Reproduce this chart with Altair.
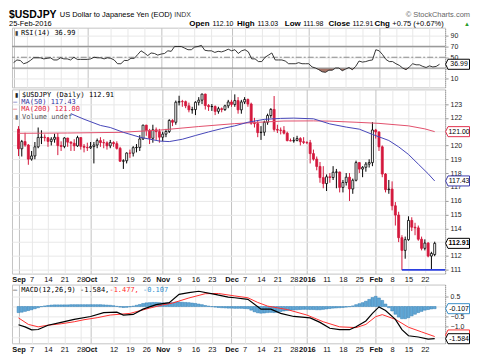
import json
import altair as alt
import pandas as pd

# ---------------- layout constants ----------------
W = 435
H_RSI, H_PRICE, H_MACD = 60, 185, 59
X_DOMAIN = [-0.47, 128.66]
PRICE_DOMAIN = [110.72, 124.06]
RSI_DOMAIN = [-6, 105]
MACD_DOMAIN = [-1.81, 1.08]

# ---------------- axis labels (trading-day index) ----------------
tick_vals = [0, 4, 9, 14, 19, 22, 29, 34, 39, 44, 49, 54, 59, 65, 69, 74, 79, 84, 88, 94, 99, 104, 109, 114, 119, 124]
tick_text = ["Sep", "7", "14", "21", "28", "Oct", "12", "19", "26", "Nov", "9", "16", "23", "Dec",
             "7", "14", "21", "28", "2016", "11", "18", "25", "Feb", "8", "15", "22"]
month_ticks = [0, 22, 44, 65, 88, 109]
rsi_ticks = [10, 30, 50, 70, 90]
price_ticks = [111, 112, 113, 114, 115, 116, 117, 118, 119, 120, 121, 122, 123]
macd_ticks = [-1.5, -1.0, -0.5, 0.0, 0.5]
# tick labels hidden under the value boxes
rsi_hidden = [30]
price_hidden = [113, 121]
macd_hidden = [-1.5, 0.0]

# ---------------- daily OHLC, Sep 1 2015 .. Feb 25 2016 ----------------
opens = [121.18, 119.76, 120.28, 120.03, 119.01, 119.24, 119.90, 120.58, 120.60, 120.56,
         120.29, 120.45, 120.59, 119.99, 119.93, 120.54, 120.24, 120.16, 119.97, 120.57,
         119.94, 119.87, 119.83, 119.92, 120.03, 120.35, 120.21, 120.19, 119.97, 120.21,
         120.13, 119.79, 118.86, 118.89, 119.45, 119.44, 119.84, 119.86, 120.47, 121.47,
         121.09, 120.52, 121.13, 121.00, 120.60, 120.82, 121.01, 121.81, 121.68, 123.13,
         123.18, 123.17, 122.87, 122.58, 122.60, 123.13, 123.28, 123.72, 122.89, 122.81,
         122.82, 122.47, 122.66, 122.60, 122.87, 123.15, 122.97, 123.25, 122.58, 123.15,
         123.33, 123.00, 121.61, 121.58, 120.93, 120.96, 121.68, 122.17, 122.61, 121.16,
         121.11, 121.09, 120.89, 120.35, 120.33, 120.37, 120.50, 120.27, 120.22, 120.20,
         119.41, 119.01, 118.48, 117.67, 117.24, 117.73, 117.68, 118.06, 118.08, 116.96,
         117.32, 117.70, 116.85, 117.48, 118.76, 118.29, 118.42, 118.65, 118.76, 121.12,
         120.98, 119.90, 117.93, 116.80, 116.84, 115.63, 114.96, 113.32, 112.40, 113.18,
         114.57, 114.08, 114.03, 113.21, 112.55, 112.93, 111.99, 112.10]
highs = [121.40, 120.40, 120.92, 120.10, 119.60, 120.25, 121.30, 121.10, 120.80, 120.60,
         120.60, 120.85, 120.90, 120.30, 120.60, 120.55, 120.30, 120.45, 120.70, 120.60,
         120.10, 120.20, 120.25, 120.25, 120.50, 120.60, 120.45, 120.30, 120.40, 120.30,
         120.30, 119.90, 119.00, 119.50, 119.70, 119.95, 120.10, 120.75, 121.50, 121.50,
         121.20, 121.50, 121.30, 121.20, 121.00, 121.20, 121.90, 121.90, 123.25, 123.60,
         123.30, 123.25, 123.10, 122.80, 123.20, 123.50, 123.75, 123.75, 123.00, 123.00,
         122.90, 122.80, 122.75, 122.95, 123.30, 123.30, 123.70, 123.50, 123.30, 123.50,
         123.40, 123.10, 122.00, 121.80, 121.40, 121.80, 122.30, 122.70, 123.58, 121.50,
         121.30, 121.40, 121.00, 120.50, 120.60, 120.70, 120.60, 120.60, 120.30, 120.40,
         119.70, 119.20, 118.80, 118.50, 117.90, 118.00, 118.50, 118.30, 118.10, 117.50,
         118.00, 118.00, 117.60, 118.90, 118.80, 118.50, 118.80, 119.00, 121.69, 121.20,
         121.00, 120.00, 118.00, 117.50, 117.40, 115.90, 115.20, 113.50, 113.40, 114.87,
         114.80, 114.40, 114.20, 113.40, 113.20, 113.00, 112.30, 113.03]
lows = [119.23, 119.20, 119.90, 118.60, 118.90, 119.00, 119.80, 120.10, 120.30, 119.90,
        120.00, 120.20, 119.30, 119.60, 119.80, 119.90, 119.60, 119.60, 119.90, 119.70,
        119.50, 119.60, 119.75, 118.70, 119.80, 119.90, 119.80, 119.70, 119.80, 119.90,
        119.70, 118.80, 118.30, 118.70, 119.10, 119.20, 119.50, 119.60, 120.40, 120.70,
        120.10, 120.20, 120.40, 120.20, 120.30, 120.60, 120.90, 121.40, 121.50, 122.90,
        122.80, 122.70, 122.40, 122.30, 122.20, 122.90, 123.00, 122.60, 122.50, 122.50,
        122.20, 122.30, 122.40, 122.50, 122.70, 122.80, 122.80, 122.30, 122.30, 123.00,
        122.80, 121.50, 121.30, 120.60, 120.40, 120.70, 121.50, 122.00, 121.00, 120.90,
        120.80, 120.80, 120.30, 120.30, 120.20, 120.30, 120.00, 120.10, 120.10, 118.70,
        118.90, 118.20, 117.30, 116.90, 116.70, 117.30, 117.50, 116.90, 116.60, 116.60,
        117.10, 115.98, 116.50, 117.40, 118.00, 117.70, 118.10, 118.40, 118.50, 120.50,
        119.60, 117.70, 116.60, 116.50, 115.30, 114.20, 113.00, 110.98, 111.80, 113.10,
        113.80, 113.50, 113.10, 112.40, 112.40, 111.90, 110.99, 111.98]
closes = [119.76, 120.28, 120.03, 119.01, 119.24, 119.90, 120.58, 120.60, 120.56, 120.29,
          120.45, 120.59, 119.99, 119.93, 120.54, 120.24, 120.16, 119.97, 120.57, 119.94,
          119.87, 119.83, 119.92, 120.03, 120.35, 120.21, 120.19, 119.97, 120.21, 120.13,
          119.79, 118.86, 118.89, 119.45, 119.44, 119.84, 119.86, 120.47, 121.47, 121.09,
          120.52, 121.13, 121.00, 120.60, 120.82, 121.01, 121.81, 121.68, 123.13, 123.18,
          123.17, 122.87, 122.58, 122.60, 123.13, 123.28, 123.72, 122.89, 122.81, 122.82,
          122.47, 122.66, 122.60, 122.87, 123.15, 122.97, 123.25, 122.58, 123.15, 123.33,
          123.00, 121.61, 121.58, 120.93, 120.96, 121.68, 122.17, 122.61, 121.16, 121.11,
          121.09, 120.89, 120.35, 120.33, 120.37, 120.50, 120.27, 120.22, 120.20, 119.41,
          119.01, 118.48, 117.67, 117.24, 117.73, 117.68, 118.06, 118.08, 116.96, 117.32,
          117.70, 116.85, 117.48, 118.76, 118.29, 118.42, 118.65, 118.76, 121.12, 120.98,
          119.90, 117.93, 116.80, 116.84, 115.63, 114.96, 113.32, 112.40, 113.18, 114.57,
          114.08, 114.03, 113.21, 112.55, 112.93, 111.99, 112.18, 112.91]

# ---------------- RSI(14) ----------------
rsi = [40, 45, 44, 38, 40, 44, 49, 49, 49, 47, 48, 49, 45, 45, 49, 47, 47, 45, 50, 46,
       46, 46, 46, 47, 50, 49, 49, 47, 49, 48, 45, 38, 38, 44, 44, 48, 48, 55, 62, 58,
       53, 58, 57, 54, 56, 57, 62, 61, 70, 70, 70, 67, 64, 64, 69, 70, 72, 63, 62, 62,
       59, 61, 60, 62, 65, 62, 64, 57, 62, 64, 60, 47, 47, 42, 42, 50, 54, 58, 45, 45,
       45, 43, 38, 38, 38, 40, 38, 38, 38, 32, 30, 27, 23, 22, 26, 26, 30, 30, 25, 28,
       31, 27, 33, 43, 41, 42, 44, 45, 64, 62, 55, 46, 42, 42, 38, 35, 30, 27, 32, 38,
       36, 36, 33, 31, 34, 32, 33, 36.99]

# ---------------- moving averages (read at points along the curves) ----------------
ma50_idx = [16, 20, 25, 28, 32, 37, 43, 46, 50, 54, 58, 62, 66, 70, 75, 80, 84, 90, 95, 100,
            104, 108, 113, 116, 119, 122, 125, 127]
ma50 = [122.30, 121.90, 121.45, 121.30, 120.95, 120.60, 120.32, 120.28, 120.45, 120.72,
        120.98, 121.22, 121.42, 121.68, 121.89, 121.96, 121.98, 121.93, 121.56, 121.33,
        121.18, 120.80, 120.36, 119.90, 119.35, 118.65, 117.95, 117.43]
ma200_idx = [0, 15, 31, 43, 55, 66, 75, 81, 90, 95, 103, 110, 119, 124, 127]
ma200 = [120.88, 120.90, 120.95, 121.11, 121.37, 121.58, 121.70, 121.77, 121.78, 121.76,
         121.68, 121.60, 121.42, 121.20, 121.00]

# ---------------- MACD(12,26,9) ----------------
macd_idx = [0, 2, 4, 6, 9, 13, 17, 22, 26, 30, 32, 35, 38, 42, 46, 49, 52, 55, 60, 64, 66,
            70, 74, 77, 80, 84, 89, 92, 95, 98, 101, 103, 106, 108, 110, 112, 115, 117, 119,
            122, 125, 127]
macd = [-0.90, -1.00, -1.15, -1.13, -0.92, -0.78, -0.63, -0.49, -0.30, -0.28, -0.42, -0.39,
        -0.13, 0.09, 0.19, 0.60, 0.68, 0.75, 0.60, 0.46, 0.43, 0.35, -0.13, -0.13, -0.34,
        -0.49, -0.56, -0.78, -1.07, -1.14, -1.14, -1.00, -0.71, -0.34, -0.02, -0.20, -0.63,
        -1.14, -1.44, -1.50, -1.60, -1.584]
sig_idx = [0, 3, 6, 9, 13, 17, 20, 24, 28, 34, 40, 44, 47, 52, 57, 61, 66, 70, 73, 76, 82,
           88, 93, 98, 103, 106, 109, 111, 115, 119, 123, 127]
signal = [-0.56, -0.88, -1.00, -0.92, -0.85, -0.75, -0.65, -0.55, -0.42, -0.34, -0.08, 0.08,
          0.17, 0.42, 0.63, 0.64, 0.52, 0.43, 0.20, 0.02, -0.15, -0.42, -0.75, -1.00, -1.04,
          -0.88, -0.50, -0.40, -0.63, -1.02, -1.25, -1.477]
hist = [-0.30, -0.28, -0.24, -0.20, -0.16, -0.11, -0.06, -0.01, 0.03, 0.05,
        0.07, 0.08, 0.08, 0.08, 0.08, 0.08, 0.09, 0.09, 0.09, 0.09,
        0.09, 0.09, 0.09, 0.09, 0.09, 0.09, 0.08, 0.07, 0.06, 0.04,
        0.01, -0.03, -0.05, -0.04, -0.02, 0.02, 0.06, 0.10, 0.15, 0.18,
        0.19, 0.20, 0.20, 0.19, 0.18, 0.17, 0.18, 0.19, 0.22, 0.22,
        0.21, 0.20, 0.19, 0.17, 0.15, 0.12, 0.09, 0.05, 0.02, -0.01,
        -0.03, -0.05, -0.06, -0.07, -0.08, -0.08, -0.09, -0.09, -0.09, -0.10,
        -0.11, -0.18, -0.26, -0.31, -0.33, -0.32, -0.30, -0.29, -0.30, -0.28,
        -0.25, -0.22, -0.20, -0.18, -0.17, -0.16, -0.15, -0.14, -0.14, -0.15,
        -0.15, -0.16, -0.16, -0.14, -0.12, -0.10, -0.08, -0.07, -0.06, -0.05,
        -0.03, -0.01, 0.03, 0.09, 0.14, 0.19, 0.26, 0.35, 0.44, 0.50,
        0.42, 0.30, 0.12, -0.06, -0.22, -0.38, -0.52, -0.60, -0.60, -0.55,
        -0.46, -0.38, -0.30, -0.24, -0.18, -0.15, -0.12, -0.107]

support_start = 117
support_level = 110.99

rsi_boxes = [(36.99, "36.99", "#000000", False)]
price_boxes = [(121.00, "121.00", "#e0304e", False), (117.43, "117.43", "#3a3aa8", False),
               (112.91, "112.91", "#000000", True)]
# the signal box (-1.477) sits behind the MACD box, only its outline shows
macd_boxes = [(-0.107, "-0.107", "#3a8fc8", False), (-1.40, "", "#ff3030", False),
              (-1.584, "-1.584", "#000000", False)]

# ---------------- styling ----------------
RED = "#d4183c"
MA50_C = "#4646b8"
MA200_C = "#e2506c"
HIST_FILL = "#62a8d6"
HIST_STROKE = "#2d7bb4"
FONT = "Liberation Sans"
MONO = "DejaVu Sans Mono"

# ---------------- frames ----------------
n = len(closes)
df = pd.DataFrame({"i": list(range(n)), "open": opens, "high": highs, "low": lows,
                   "close": closes, "rsi": rsi, "hist": hist})
prev = df["close"].shift(1).fillna(df["open"])
df["col"] = [RED if c < p else "#000000" for c, p in zip(df["close"], prev)]
df["fillc"] = ["#ffffff" if c > o else col for c, o, col in zip(df["close"], df["open"], df["col"])]
df["zero"] = 0.0

ma50_df = pd.DataFrame({"i": ma50_idx, "v": ma50})
ma200_df = pd.DataFrame({"i": ma200_idx, "v": ma200})
macd_df = pd.DataFrame({"i": macd_idx, "v": macd})
sig_df = pd.DataFrame({"i": sig_idx, "v": signal})
sup_df = pd.DataFrame({"i": [support_start], "v": [support_level]})
one = pd.DataFrame({"k": [0]})

xs = alt.Scale(domain=X_DOMAIN, nice=False, zero=False)
month_test = f"indexof({json.dumps(month_ticks)}, datum.value) >= 0"
lab_expr = f"{json.dumps(tick_text)}[indexof({json.dumps(tick_vals)}, datum.value)]"


def xaxis(labels):
    return alt.Axis(values=tick_vals, labelExpr=lab_expr, labels=labels, ticks=False, domain=False,
                    grid=True, title=None, labelOverlap=False, labelFlush=3, labelPadding=2,
                    gridColor={"condition": {"test": month_test, "value": "#c2c2c2"}, "value": "#e8e8e8"},
                    labelFontWeight={"condition": {"test": month_test, "value": "bold"}, "value": "normal"},
                    labelFont=FONT, labelFontSize=7.5, labelColor="#111")


def yaxis(values, hidden, fmt=None):
    kw = dict(values=values, orient="right", title=None, grid=True, gridColor="#e8e8e8",
              domain=True, domainColor="#9a9a9a", domainDash=[1, 1], ticks=True, tickSize=3,
              tickColor="#9a9a9a", labelPadding=2, labelFont=FONT, labelFontSize=7,
              labelColor="#222",
              labelExpr=f"indexof({json.dumps(hidden)}, datum.value) >= 0 ? '' : datum.label")
    if fmt:
        kw["format"] = fmt
    return alt.Axis(**kw)


def make_x(labels):
    return lambda: alt.X("i:Q", scale=xs, axis=xaxis(labels))


def make_y(domain, values, hidden, fmt=None):
    sc = alt.Scale(domain=domain, nice=False, zero=False)
    return lambda field: alt.Y(field, scale=sc, axis=yaxis(values, hidden, fmt))


def note(text, x, y, size=7, color="#000", weight="normal", align="left", font=FONT):
    return alt.Chart(one).mark_text(text=text, align=align, baseline="middle", fontSize=size,
                                    color=color, fontWeight=weight, font=font).encode(
        x=alt.value(x), y=alt.value(y))


BOX_PATH = "M -1 0 L -0.8 -0.42 L 1 -0.42 L 1 0.42 L -0.8 0.42 Z"


def value_box(v, label, stroke, Y, bold=False):
    d = pd.DataFrame({"v": [v], "t": [label]})
    shape = alt.Chart(d).mark_point(shape=BOX_PATH, size=576, fill="white", fillOpacity=1,
                                    stroke=stroke, strokeWidth=1, opacity=1).encode(
        x=alt.value(W + 12.5), y=Y("v:Q"))
    out = [shape]
    if label:
        out.append(alt.Chart(d).mark_text(fontSize=7, font=FONT,
                                          fontWeight="bold" if bold else "normal",
                                          color="#000", align="center", baseline="middle").encode(
            x=alt.value(W + 14), y=Y("v:Q"), text="t:N"))
    return out


base = alt.Chart(df)

# ---------------- RSI panel ----------------
Xr = make_x(False)
Yr = make_y(RSI_DOMAIN, rsi_ticks, rsi_hidden)
rsi_fill = base.transform_calculate(lo="min(datum.rsi, 30)").mark_area(
    color="#9c6658", opacity=0.9).encode(x=Xr(), y=Yr("lo:Q"), y2=alt.datum(30))
rsi_levels = alt.Chart(pd.DataFrame({"lv": [30, 70]})).mark_rule(
    color="#9a9a9a", strokeWidth=1.3).encode(y=Yr("lv:Q"))
rsi_mid = alt.Chart(pd.DataFrame({"lv": [50]})).mark_rule(
    color="#8a8a8a", strokeWidth=1, strokeDash=[6, 2, 2, 2]).encode(y=Yr("lv:Q"))
rsi_line = base.mark_line(color="#222", strokeWidth=0.9).encode(x=Xr(), y=Yr("rsi:Q"))

header = [
    note("$USDJPY", -3, -13, size=10.5, weight="bold"),
    note("US Dollar to Japanese Yen (EOD)", 48, -13, size=7.5),
    note("INDX", 163, -13, size=7, color="#333"),
    note("\u00a9 StockCharts.com", 460, -13, size=7.5, color="#666", align="right"),
    note("25-Feb-2016", -3, -4, size=7.5),
    note("Open", 178, -4, size=8, weight="bold"),
    note("112.10", 201.5, -4, size=7),
    note("High", 226, -4, size=8, weight="bold"),
    note("113.03", 246.5, -4, size=7),
    note("Low", 274, -4, size=8, weight="bold"),
    note("111.98", 292.5, -4, size=7),
    note("Close", 318, -4, size=8, weight="bold"),
    note("112.91", 342, -4, size=7),
    note("Chg", 364, -4, size=8, weight="bold"),
    note("+0.75 (+0.67%)", 382, -4, size=7.5),
    note("\u25b2", 460, -4, size=6, color="#2a9d2a", align="right"),
    note("\u25ae", 3, 5, size=6, color="#444"),
    note("RSI(14) 36.99", 9, 5, size=7, font=MONO),
]
rsi_layers = [rsi_fill, rsi_levels, rsi_mid, rsi_line] + header
for v, t, c, b in rsi_boxes:
    rsi_layers += value_box(v, t, c, Yr, b)
rsi_panel = alt.layer(*rsi_layers).properties(width=W, height=H_RSI)

# ---------------- price panel ----------------
Xp = make_x(True)
Yp = make_y(PRICE_DOMAIN, price_ticks, price_hidden)
wick = base.mark_rule(strokeWidth=1).encode(
    x=Xp(), y=Yp("low:Q"), y2="high:Q", color=alt.Color("col:N", scale=None))
body = base.mark_bar(size=2.0, strokeWidth=0.8).encode(
    x=Xp(), y=Yp("open:Q"), y2="close:Q",
    fill=alt.Fill("fillc:N", scale=None), stroke=alt.Stroke("col:N", scale=None))
ma200_line = alt.Chart(ma200_df).mark_line(color=MA200_C, strokeWidth=1).encode(x=Xp(), y=Yp("v:Q"))
ma50_line = alt.Chart(ma50_df).mark_line(color=MA50_C, strokeWidth=1).encode(x=Xp(), y=Yp("v:Q"))
support = alt.Chart(sup_df).mark_rule(color="#2b3fe0", strokeWidth=2).encode(
    x=Xp(), x2=alt.value(W), y=Yp("v:Q"))
legend = [
    note("\u25ae", 3, 5.5, size=6, color="#222"),
    note("$USDJPY (Daily) 112.91", 10, 5.5, size=7, font=MONO),
    note("\u2014 MA(50) 117.43", 1, 12.8, size=7, font=MONO, color="#2f2fa0"),
    note("\u2014 MA(200) 121.00", 1, 20.1, size=7, font=MONO, color="#e0203e"),
    note("\u25ae", 3, 27.4, size=6, color="#777"),
    note("Volume undef", 10, 27.4, size=7, font=MONO, color="#555"),
]
price_layers = [wick, body, ma200_line, ma50_line, support] + legend
for v, t, c, b in price_boxes:
    price_layers += value_box(v, t, c, Yp, b)
price_panel = alt.layer(*price_layers).properties(width=W, height=H_PRICE)

# ---------------- MACD panel ----------------
Xm = make_x(True)
Ym = make_y(MACD_DOMAIN, macd_ticks, macd_hidden, ".1f")
bars = base.mark_bar(size=2.8, fill=HIST_FILL, stroke=HIST_STROKE, strokeWidth=0.5).encode(
    x=Xm(), y=Ym("hist:Q"), y2="zero:Q")
sig_line = alt.Chart(sig_df).mark_line(color="#ff3030", strokeWidth=1).encode(x=Xm(), y=Ym("v:Q"))
macd_line = alt.Chart(macd_df).mark_line(color="#000000", strokeWidth=1.2).encode(x=Xm(), y=Ym("v:Q"))
cw = 4.214
mleg = [
    note("\u2014 MACD(12,26,9) -1.584,", 1, 5.5, size=7, font=MONO),
    note(" -1.477,", 1 + 23 * cw, 5.5, size=7, font=MONO, color="#ff2a2a"),
    note(" -0.107", 1 + 31 * cw, 5.5, size=7, font=MONO, color="#3090d0"),
]
macd_layers = [bars, sig_line, macd_line] + mleg
for v, t, c, b in macd_boxes:
    macd_layers += value_box(v, t, c, Ym, b)
macd_panel = alt.layer(*macd_layers).properties(width=W, height=H_MACD)

chart = alt.vconcat(rsi_panel, price_panel, macd_panel, spacing=0).properties(
    padding=0, background="white").configure_view(stroke="#c4c4c4", strokeWidth=1)

chart.save("out.html", embed_options={"renderer": "svg", "actions": False})
